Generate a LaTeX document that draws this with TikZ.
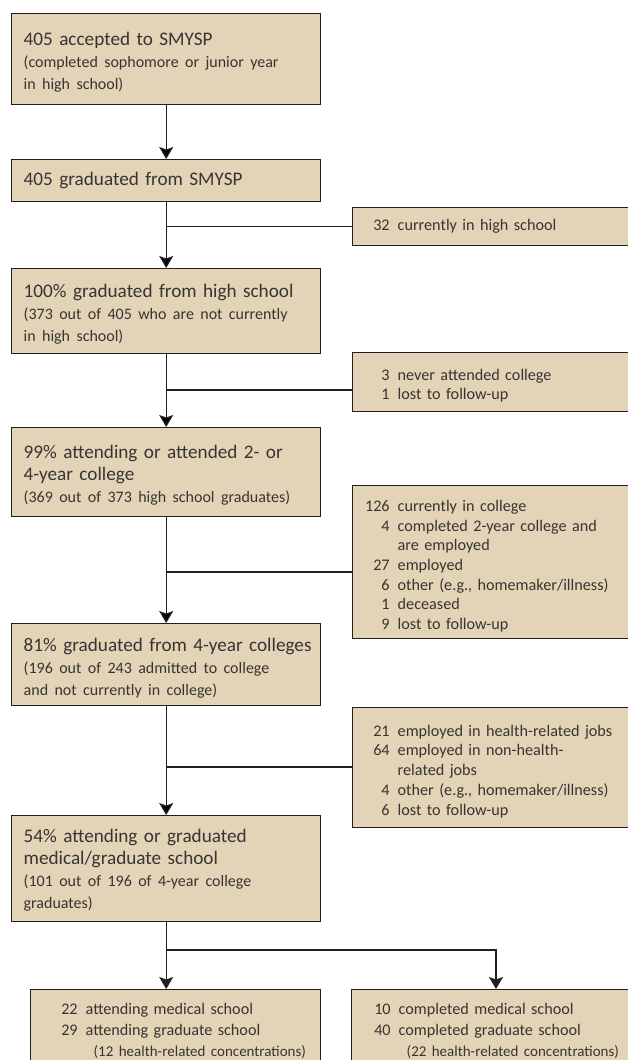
\documentclass[tikz,border=0pt]{standalone}
\usepackage{fontspec}
\setmainfont{Carlito}
\usetikzlibrary{arrows.meta}

\definecolor{boxfill}{RGB}{228,212,183}
\definecolor{linecol}{RGB}{35,31,32}
\definecolor{txtcol}{RGB}{55,52,50}

\newcommand{\subtxt}{\fontsize{16}{22}\selectfont}
\newcommand{\notetxt}{\fontsize{15}{21}\selectfont}
\newcommand{\padl}[1]{\leftskip=#1\relax}
\newcommand{\lift}[1]{\rule{0pt}{\dimexpr\fontcharht\font`A+#1\relax}}
\newcommand{\cnt}[1]{\makebox[27pt][r]{#1}\hspace{8pt}}

\tikzset{
  box/.style={draw=linecol, fill=boxfill, line width=1.4pt, anchor=north west,
    inner xsep=0pt, inner ysep=0pt, text=txtcol},
  mainbox/.style={box, text width=309pt, font=\fontsize{19.2}{22}\selectfont},
  sidebox/.style={box, text width=278pt, font=\fontsize{16.2}{19.7}\selectfont},
  endbox/.style={box, font=\fontsize{16.2}{21}\selectfont},
  link/.style={draw=linecol, line width=1.2pt},
  >={Stealth[length=12pt,width=14pt,inset=2.5pt]},
}

\begin{document}
\begin{tikzpicture}[x=1pt,y=-1pt]
\useasboundingbox (0,0) rectangle (628,1060);

\node[mainbox, minimum height=91pt] at (11,13) (acc) {\padl{12pt}\lift{8pt}405 accepted to SMYSP\\
  \subtxt (completed sophomore or junior year\\ in high school)\par};
\node[mainbox, minimum height=42pt] at (11,159) (grad) {\padl{12pt}405 graduated from SMYSP\par};
\node[mainbox, minimum height=85pt] at (11,268) (hs) {\padl{12pt}\lift{8pt}100\% graduated from high school\\
  \subtxt (373 out of 405 who are not currently\\ in high school)\par};
\node[mainbox, minimum height=89pt] at (11,427) (coll) {\padl{12pt}\lift{8pt}99\% attending or attended 2- or\\
  4-year college\\ \subtxt (369 out of 373 high school graduates)\par};
\node[mainbox, minimum height=82pt] at (11,623) (four) {\padl{12pt}\lift{8pt}81\% graduated from 4-year colleges\\
  \subtxt (196 out of 243 admitted to college\\ and not currently in college)\par};
\node[mainbox, minimum height=106pt] at (11,815) (med) {\padl{12pt}\lift{4pt}54\% attending or graduated\\
  medical/graduate school\\ \subtxt (101 out of 196 of 4-year college\\ graduates)\par};

\node[sidebox, minimum height=38pt] at (352,207) (cur) {\padl{10pt}\cnt{32}currently in high school\par};
\node[sidebox, minimum height=59pt] at (352,352) (nev) {\padl{10pt}\lift{8pt}\cnt{3}never attended college\\
  \cnt{1}lost to follow-up\par};
\node[sidebox, minimum height=153pt] at (352,485) (incoll) {\padl{10pt}\lift{9pt}\cnt{126}currently in college\\
  \cnt{4}completed 2-year college and\\ \cnt{}are employed\\ \cnt{27}employed\\
  \cnt{6}other (e.g., homemaker/illness)\\ \cnt{1}deceased\\ \cnt{9}lost to follow-up\par};
\node[sidebox, minimum height=120pt] at (352,707) (jobs) {\padl{10pt}\lift{8pt}\cnt{21}employed in health-related jobs\\
  \cnt{64}employed in non-health-\\ \cnt{}related jobs\\
  \cnt{4}other (e.g., homemaker/illness)\\ \cnt{6}lost to follow-up\par};

\node[endbox, text width=290pt, minimum height=82pt] at (30,989) (att) {\padl{20pt}\cnt{22}attending medical school\\
  \cnt{29}attending graduate school\\ \cnt{}\hspace{8pt}\notetxt(12 health-related concentrations)\par};
\node[endbox, text width=279pt, minimum height=82pt] at (351,989) (comp) {\padl{12pt}\cnt{10}completed medical school\\
  \cnt{40}completed graduate school\\ \cnt{}\hspace{8pt}\notetxt(22 health-related concentrations)\par};

\coordinate (j2) at (166,390);
\coordinate (j3) at (166,572);
\coordinate (j4) at (166,767);
\coordinate (rt) at (496,950);

\path[link, ->]
  (acc) edge (grad)
  (grad) edge (hs)
  (hs) edge (coll)
  (coll) edge (four)
  (four) edge (med);

\draw[link] (grad.south |- cur.west) -- (cur.west);
\draw[link] (hs.south |- j2) -- (j2 -| nev.west);
\draw[link] (coll.south |- j3) -- (j3 -| incoll.west);
\draw[link] (four.south |- j4) -- (j4 -| jobs.west);
\draw[link, ->] (med.south) -- (med.south |- att.north);
\draw[link, ->] (med.south |- rt) -- (rt) -- (rt |- comp.north);
\end{tikzpicture}
\end{document}
